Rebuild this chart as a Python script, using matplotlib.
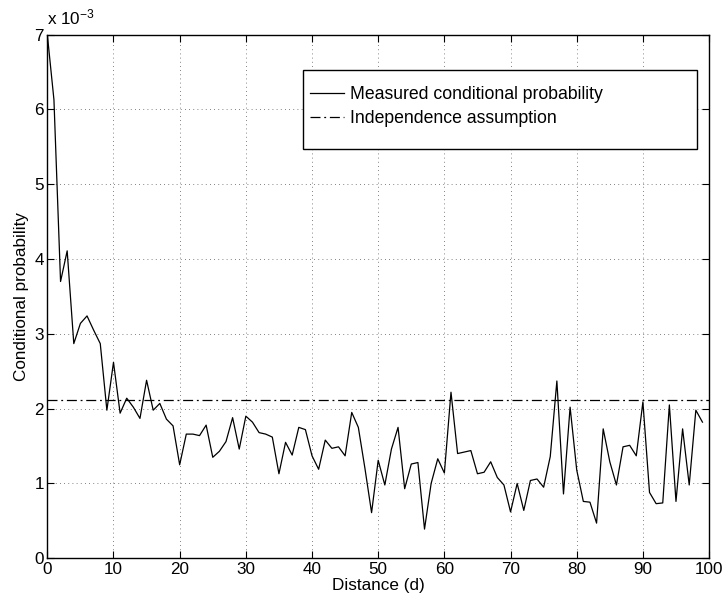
import numpy as np
import matplotlib
matplotlib.use("Agg")
from matplotlib import pyplot as plt
from matplotlib.patches import Rectangle
from matplotlib.ticker import FuncFormatter

narrow = ['Liberation Sans Narrow', 'Liberation Sans', 'DejaVu Sans']
plt.rcParams['font.family'] = narrow
plt.rcParams['mathtext.fontset'] = 'custom'
plt.rcParams['mathtext.rm'] = 'Liberation Sans'
plt.rcParams['mathtext.it'] = 'Liberation Sans'

# data, in units of 1e-3
distance = list(range(100))
measured = [7.00, 6.13, 3.70, 4.11, 2.87, 3.14, 3.24, 3.05, 2.87, 1.98,
            2.62, 1.94, 2.14, 2.02, 1.87, 2.38, 1.98, 2.07, 1.86, 1.77,
            1.25, 1.66, 1.66, 1.64, 1.78, 1.35, 1.43, 1.56, 1.88, 1.46,
            1.90, 1.82, 1.68, 1.66, 1.62, 1.13, 1.55, 1.38, 1.75, 1.72,
            1.37, 1.19, 1.58, 1.47, 1.49, 1.37, 1.95, 1.75, 1.20, 0.61,
            1.31, 0.98, 1.46, 1.75, 0.93, 1.26, 1.28, 0.39, 1.00, 1.33,
            1.14, 2.22, 1.40, 1.42, 1.44, 1.13, 1.15, 1.29, 1.08, 0.98,
            0.62, 1.00, 0.64, 1.04, 1.06, 0.95, 1.36, 2.37, 0.86, 2.02,
            1.18, 0.76, 0.75, 0.47, 1.73, 1.29, 0.98, 1.49, 1.51, 1.37,
            2.09, 0.88, 0.73, 0.74, 2.05, 0.76, 1.73, 0.98, 1.98, 1.82]
independence = 2.11
scale = 1e-3

fig = plt.figure(figsize=(7.28, 6.04), dpi=100)
ax = fig.add_axes([0.065, 0.0757, 0.909, 0.8669])

y = np.array(measured) * scale
l1, = ax.plot(distance, y, color='black', lw=0.9, label='Measured conditional probability')
l2, = ax.plot([0, 100], [independence * scale] * 2, color='black', lw=0.9,
              dashes=(8, 3, 1.5, 3), label='Independence assumption')

ax.set_xlim(0, 100)
ax.set_ylim(0, 7 * scale)
ax.set_xticks(np.arange(0, 101, 10))
ax.set_yticks(np.arange(0, 8) * scale)
ax.yaxis.set_major_formatter(FuncFormatter(lambda v, p: '%g' % round(v / scale, 6)))
ax.grid(True, color='0.35', lw=0.6, dashes=(1, 4))
ax.tick_params(direction='in', length=5, width=0.8, top=True, right=True,
               labelsize=12.3, pad=2.5)
for s in ax.spines.values():
    s.set_linewidth(1.0)

ax.set_xlabel('Distance (d)', fontsize=12.3, labelpad=1)
ax.set_ylabel('Conditional probability', fontsize=12.3, labelpad=4)
ax.text(0, 1.0147, r'x 10$^{-3}$', transform=ax.transAxes, fontsize=12.3,
        ha='left', va='bottom')

ax.add_patch(Rectangle((0.3858, 0.7811), 0.5967, 0.1515, transform=ax.transAxes,
                       facecolor='white', edgecolor='black', lw=1.0, zorder=5))
leg = ax.legend(handles=[l1, l2], loc='upper left', bbox_to_anchor=(0.397, 0.902),
                frameon=False, borderpad=0, borderaxespad=0, handlelength=1.9,
                handletextpad=0.36, labelspacing=0.42,
                prop={'family': ['Liberation Sans', 'DejaVu Sans'], 'size': 12.7})
leg.set_zorder(6)

fig.savefig('out.png', dpi=100)
